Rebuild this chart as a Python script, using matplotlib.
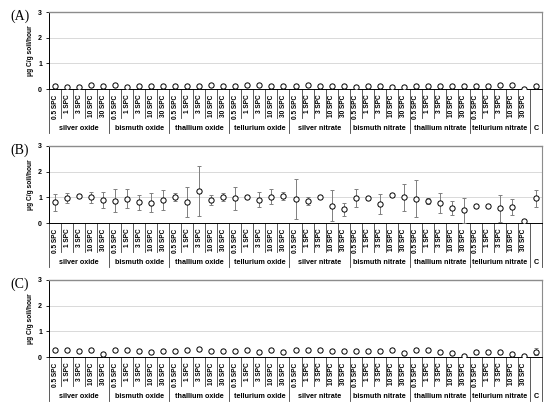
import matplotlib.pyplot as plt
from matplotlib.transforms import blended_transform_factory

compounds = ["silver oxide", "bismuth oxide", "thallium oxide", "tellurium oxide",
             "silver nitrate", "bismuth nitrate", "thallium nitrate", "tellurium nitrate"]
doses = ["0.5 SPC", "1 SPC", "3 SPC", "10 SPC", "30 SPC"]

# Panel A
a_mean = [0.12, 0.09, 0.09, 0.14, 0.12,
          0.15, 0.07, 0.11, 0.11, 0.11,
          0.13, 0.13, 0.12, 0.14, 0.12,
          0.12, 0.14, 0.14, 0.12, 0.13,
          0.11, 0.14, 0.12, 0.12, 0.12,
          0.09, 0.11, 0.11, 0.08, 0.09,
          0.12, 0.11, 0.13, 0.13, 0.13,
          0.10, 0.10, 0.15, 0.15, 0.01,
          0.13]
a_err = [0.02] * 41

# Panel B
b_mean = [0.81, 0.97, 1.06, 1.00, 0.90,
          0.87, 0.95, 0.80, 0.78, 0.90,
          1.01, 0.83, 1.26, 0.90, 1.00,
          0.97, 1.03, 0.91, 1.03, 1.06,
          0.94, 0.86, 1.03, 0.68, 0.53,
          0.97, 0.97, 0.74, 1.10, 1.00,
          0.95, 0.87, 0.78, 0.58, 0.49,
          0.65, 0.65, 0.58, 0.62, 0.09,
          0.97]
b_err = [0.33, 0.20, 0.03, 0.22, 0.30,
         0.44, 0.37, 0.30, 0.37, 0.39,
         0.14, 0.58, 0.98, 0.18, 0.15,
         0.45, 0.03, 0.29, 0.30, 0.15,
         0.79, 0.17, 0.03, 0.60, 0.25,
         0.34, 0.04, 0.39, 0.04, 0.52,
         0.72, 0.12, 0.38, 0.27, 0.49,
         0.03, 0.03, 0.53, 0.32, 0.00,
         0.33]

# Panel C
c_mean = [0.26, 0.27, 0.22, 0.27, 0.10,
          0.29, 0.26, 0.22, 0.20, 0.22,
          0.22, 0.26, 0.30, 0.23, 0.23,
          0.23, 0.29, 0.21, 0.29, 0.20,
          0.27, 0.27, 0.26, 0.23, 0.23,
          0.22, 0.25, 0.23, 0.26, 0.17,
          0.27, 0.26, 0.20, 0.14, 0.03,
          0.21, 0.20, 0.20, 0.10, 0.05,
          0.21]
c_err = [0.02] * 30 + [0.06] + [0.02] * 9 + [0.13]

panel_labels = ["(A)", "(B)", "(C)"]
ylabel = "μg C/g soil/hour"

tick_labels = [d for _ in compounds for d in doses] + [""]
groups = compounds + ["C"]

fig = plt.figure(figsize=(5.5, 4.13), dpi=100)
panel_bottoms = [1 - 89 / 413, 1 - 223 / 413, 1 - 357 / 413]
ax_h = 77 / 413
sans = "Liberation Sans"

for k, (mean, err) in enumerate([(a_mean, a_err), (b_mean, b_err), (c_mean, c_err)]):
    ax = fig.add_axes([49 / 550, panel_bottoms[k], 493 / 550, ax_h])
    x = list(range(len(mean)))
    ax.errorbar(x, mean, yerr=err, fmt="o", ms=3.8, mfc="white", mec="black", mew=0.7,
                ecolor="#7f7f7f", elinewidth=0.7, capsize=1.6, capthick=0.7, zorder=3)
    ax.set_xlim(-0.5, len(mean) - 0.5)
    ax.set_ylim(0, 3)
    ax.set_yticks([0, 1, 2, 3])
    ax.set_yticklabels(["0", "1", "2", "3"], fontsize=5, fontweight="bold", family=sans)
    ax.tick_params(axis="y", length=2, width=0.6, pad=3)
    for yy in [1, 2]:
        ax.axhline(yy, color="#d9d9d9", lw=0.7, zorder=0)
    ax.spines["top"].set_color("#8c8c8c")
    ax.spines["top"].set_linewidth(1.0)
    ax.spines["right"].set_color("#8c8c8c")
    ax.spines["right"].set_linewidth(0.8)
    ax.spines["left"].set_linewidth(0.7)
    ax.spines["bottom"].set_linewidth(0.7)
    ax.set_ylabel(ylabel, fontsize=4.8, fontweight="bold", family=sans, labelpad=3)

    ax.set_xticks(x)
    ax.set_xticklabels(tick_labels, rotation=90, fontsize=4.7, fontweight="bold",
                       family=sans, va="top")
    ax.tick_params(axis="x", length=0, pad=4)

    # category axis separators
    trans = blended_transform_factory(ax.transData, ax.transAxes)
    n = len(mean)
    for b in range(n + 1):
        pos = b - 0.5
        if b % 5 == 0 or b >= n - 1:
            ax.plot([pos, pos], [0, -0.57], color="#404040", lw=0.6,
                    transform=trans, clip_on=False)
        else:
            ax.plot([pos, pos], [0, -0.38], color="#404040", lw=0.6,
                    transform=trans, clip_on=False)
    for g, name in enumerate(groups):
        if name == "C":
            cx = n - 1
        else:
            cx = g * 5 + 2
        ax.text(cx, -0.51, name, transform=trans, ha="center", va="center",
                fontsize=5.2, fontweight="bold", family=sans)

    top_px = 413 * (1 - panel_bottoms[k] - ax_h)
    fig.text(10 / 550, 1 - (top_px + 4) / 413, panel_labels[k], fontsize=10,
             family="Liberation Serif", va="center", ha="left")

fig.savefig("out.png", dpi=100)
